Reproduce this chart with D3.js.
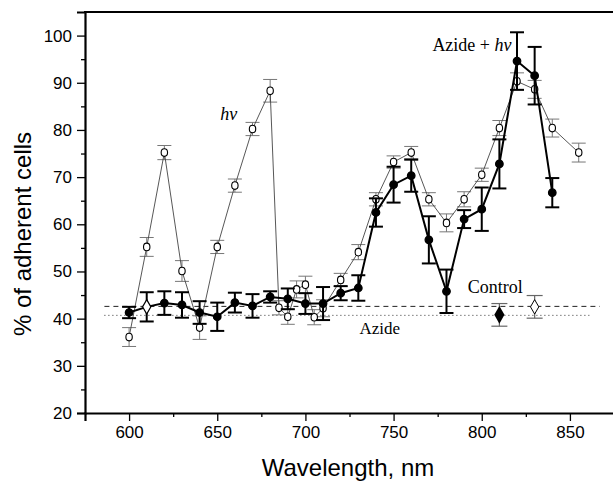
<!DOCTYPE html>
<html>
<head>
<meta charset="utf-8">
<script src="https://cdn.jsdelivr.net/npm/d3@7"></script>
<style>
  body { margin: 0; background: #fff; }
  svg { display: block; }
</style>
</head>
<body>
<script>
// chart size
var w = 613;
var h = 482;
var margin = {left: 85, right: -1, top: 12, bottom: 69};

// hv series (open circles)
var hvWl   = [600, 610, 620, 630, 640, 650, 660, 670, 680, 685, 690, 695, 700, 705, 710,
              720, 730, 740, 750, 760, 770, 780, 790, 800, 810, 820, 830, 840, 855];
var hvMean = [36.1, 55.2, 75.2, 50.1, 38.1, 55.2, 68.2, 80.2, 88.3, 42.3, 40.4, 46.2, 47.2, 40.3, 42.2,
              48.2, 54.1, 65.3, 73.2, 75.2, 65.3, 60.3, 65.3, 70.5, 80.4, 90.3, 88.6, 80.4, 75.2];
var hvErr  = [2.0, 2.0, 1.5, 2.2, 2.5, 1.4, 1.4, 1.4, 2.4, 1.5, 1.6, 1.8, 1.8, 1.6, 1.8,
              1.4, 1.6, 1.4, 1.3, 1.3, 1.4, 1.9, 1.6, 1.4, 1.6, 1.8, 1.9, 1.9, 2.0];

// azide + hv series (filled circles)
var azWl   = [600, 610, 620, 630, 640, 650, 660, 670, 680, 690, 700, 710, 720,
              730, 740, 750, 760, 770, 780, 790, 800, 810, 820, 830, 840];
var azMean = [41.3, 42.5, 43.3, 42.9, 41.3, 40.4, 43.4, 42.7, 44.6, 44.2, 43.2, 43.2, 45.4,
              46.5, 62.5, 68.4, 70.3, 56.7, 45.8, 61.1, 63.2, 72.8, 94.6, 91.5, 66.7];
var azErr  = [1.2, 3.1, 2.5, 2.7, 2.4, 3.0, 2.1, 2.5, 1.2, 2.2, 2.2, 3.5, 1.5,
              2.7, 3.0, 3.8, 3.4, 5.0, 4.6, 1.9, 4.6, 5.2, 6.1, 6.1, 3.1];
var azDiamondAt = [610];

// reference levels
var controlLevel = 42.6;
var azideLevel = 40.7;
var controlSpan = [586, 867];
var azideSpan = [586, 861];
var controlPoint = {wl: 830, mean: 42.5, err: 2.4};
var azidePoint = {wl: 810, mean: 40.8, err: 2.4};

// ticks
var xTicks = [600, 650, 700, 750, 800, 850];
var xMinor = [625, 675, 725, 775, 825, 875];
var yTicks = [20, 30, 40, 50, 60, 70, 80, 90, 100];
var yMinor = [25, 35, 45, 55, 65, 75, 85, 95];

var svg = d3.select('body')
    .append('svg')
    .attr('width', w)
    .attr('height', h);

var x = d3.scaleLinear()
    .domain([575, 875])
    .range([margin.left, w - margin.right]);

var y = d3.scaleLinear()
    .domain([20, 105])
    .range([h - margin.bottom, margin.top]);

var hv = hvWl.map((d, i) => ({wl: d, mean: hvMean[i], err: hvErr[i]}));
var az = azWl.map((d, i) => ({wl: d, mean: azMean[i], err: azErr[i]}));

var line = d3.line()
    .x(d => x(d.wl))
    .y(d => y(d.mean));

// error bars helper
function errorBars(g, data, color, width, cap) {
  var eb = g.selectAll('g')
      .data(data)
      .enter()
      .append('g')
      .attr('stroke', color)
      .attr('stroke-width', width)
      .attr('fill', 'none');
  eb.append('line')
      .attr('x1', d => x(d.wl)).attr('x2', d => x(d.wl))
      .attr('y1', d => y(d.mean + d.err)).attr('y2', d => y(d.mean - d.err));
  eb.append('line')
      .attr('x1', d => x(d.wl) - cap).attr('x2', d => x(d.wl) + cap)
      .attr('y1', d => y(d.mean + d.err)).attr('y2', d => y(d.mean + d.err));
  eb.append('line')
      .attr('x1', d => x(d.wl) - cap).attr('x2', d => x(d.wl) + cap)
      .attr('y1', d => y(d.mean - d.err)).attr('y2', d => y(d.mean - d.err));
}

// control / azide reference lines
svg.append('line')
    .attr('x1', x(controlSpan[0])).attr('x2', x(controlSpan[1]))
    .attr('y1', y(controlLevel)).attr('y2', y(controlLevel))
    .attr('stroke', '#222').attr('stroke-width', 1)
    .attr('stroke-dasharray', '5,4');
svg.append('line')
    .attr('x1', x(azideSpan[0])).attr('x2', x(azideSpan[1]))
    .attr('y1', y(azideLevel)).attr('y2', y(azideLevel))
    .attr('stroke', '#333').attr('stroke-width', 1)
    .attr('stroke-dasharray', '1,3');

// hv series
errorBars(svg.append('g'), hv, '#777', 1, 7);
svg.append('path')
    .datum(hv)
    .attr('d', line)
    .attr('fill', 'none')
    .attr('stroke', '#444')
    .attr('stroke-width', 0.9);
svg.append('g').selectAll('ellipse')
    .data(hv)
    .enter()
    .append('ellipse')
    .attr('cx', d => x(d.wl))
    .attr('cy', d => y(d.mean))
    .attr('rx', 3.2)
    .attr('ry', 3.8)
    .attr('fill', 'white')
    .attr('stroke', 'black')
    .attr('stroke-width', 1.1);

// azide + hv series
errorBars(svg.append('g'), az, 'black', 2, 7);
svg.append('path')
    .datum(az)
    .attr('d', line)
    .attr('fill', 'none')
    .attr('stroke', 'black')
    .attr('stroke-width', 2);
var diamond = d3.symbol().type(d3.symbolDiamond).size(60);
svg.append('g').selectAll('path')
    .data(az)
    .enter()
    .append('path')
    .attr('transform', d => 'translate(' + x(d.wl) + ',' + y(d.mean) + ')')
    .attr('d', d => azDiamondAt.indexOf(d.wl) >= 0 ? diamond() : d3.symbol().type(d3.symbolCircle).size(45)())
    .attr('fill', d => azDiamondAt.indexOf(d.wl) >= 0 ? 'white' : 'black')
    .attr('stroke', 'black')
    .attr('stroke-width', 1.2);

// single control + azide points
errorBars(svg.append('g'), [controlPoint, azidePoint], '#666', 1.2, 8);
svg.append('path')
    .attr('transform', 'translate(' + x(controlPoint.wl) + ',' + y(controlPoint.mean) + ')')
    .attr('d', diamond())
    .attr('fill', 'white').attr('stroke', 'black').attr('stroke-width', 1);
svg.append('path')
    .attr('transform', 'translate(' + x(azidePoint.wl) + ',' + y(azidePoint.mean) + ')')
    .attr('d', d3.symbol().type(d3.symbolDiamond).size(90)())
    .attr('fill', 'black');

// axes
svg.append('g')
    .attr('transform', 'translate(0,' + y(20) + ')')
    .call(d3.axisBottom(x).tickValues(xTicks).tickSize(8).tickPadding(5).tickFormat(d3.format('d')));
svg.append('g')
    .attr('transform', 'translate(0,' + y(20) + ')')
    .call(d3.axisBottom(x).tickValues(xMinor).tickSize(4).tickFormat(''))
    .select('.domain').remove();
svg.append('g')
    .attr('transform', 'translate(' + margin.left + ',0)')
    .call(d3.axisLeft(y).tickValues(yTicks).tickSize(8).tickPadding(5));
svg.append('g')
    .attr('transform', 'translate(' + margin.left + ',0)')
    .call(d3.axisLeft(y).tickValues(yMinor).tickSize(4).tickFormat(''))
    .select('.domain').remove();

svg.selectAll('.tick line').attr('stroke', 'black').attr('stroke-width', 1.3);
svg.selectAll('.domain').attr('stroke', 'black').attr('stroke-width', 2.2);
svg.selectAll('.tick text')
    .attr('font-family', 'Liberation Sans, Arial, sans-serif')
    .attr('font-size', '17px')
    .attr('fill', 'black');

// top frame
svg.append('line')
    .attr('x1', margin.left - 1).attr('x2', w)
    .attr('y1', y(105)).attr('y2', y(105))
    .attr('stroke', 'black').attr('stroke-width', 2.2);

// axis titles
svg.append('text')
    .text('Wavelength, nm')
    .attr('x', 348)
    .attr('y', 476)
    .attr('text-anchor', 'middle')
    .attr('font-family', 'Liberation Sans, Arial, sans-serif')
    .attr('font-size', '24px');
svg.append('text')
    .text('% of adherent cells')
    .attr('transform', 'translate(31,234) rotate(-90)')
    .attr('text-anchor', 'middle')
    .attr('font-family', 'Liberation Sans, Arial, sans-serif')
    .attr('font-size', '24px');

// annotations
var serif = 'Liberation Serif, Times New Roman, serif';
svg.append('text')
    .text('hν')
    .attr('x', x(656.5)).attr('y', y(82.1))
    .attr('text-anchor', 'middle')
    .attr('font-family', serif).attr('font-style', 'italic')
    .attr('font-size', '18px');
var azl = svg.append('text')
    .attr('x', x(772)).attr('y', y(96.8))
    .attr('font-family', serif)
    .attr('font-size', '18px');
azl.append('tspan').text('Azide + ');
azl.append('tspan').text('hν').attr('font-style', 'italic');
svg.append('text')
    .text('Control')
    .attr('x', x(792)).attr('y', y(45.5))
    .attr('font-family', serif)
    .attr('font-size', '18px');
svg.append('text')
    .text('Azide')
    .attr('x', x(730.7)).attr('y', y(36.8))
    .attr('font-family', serif)
    .attr('font-size', '17px');
</script>
</body>
</html>
